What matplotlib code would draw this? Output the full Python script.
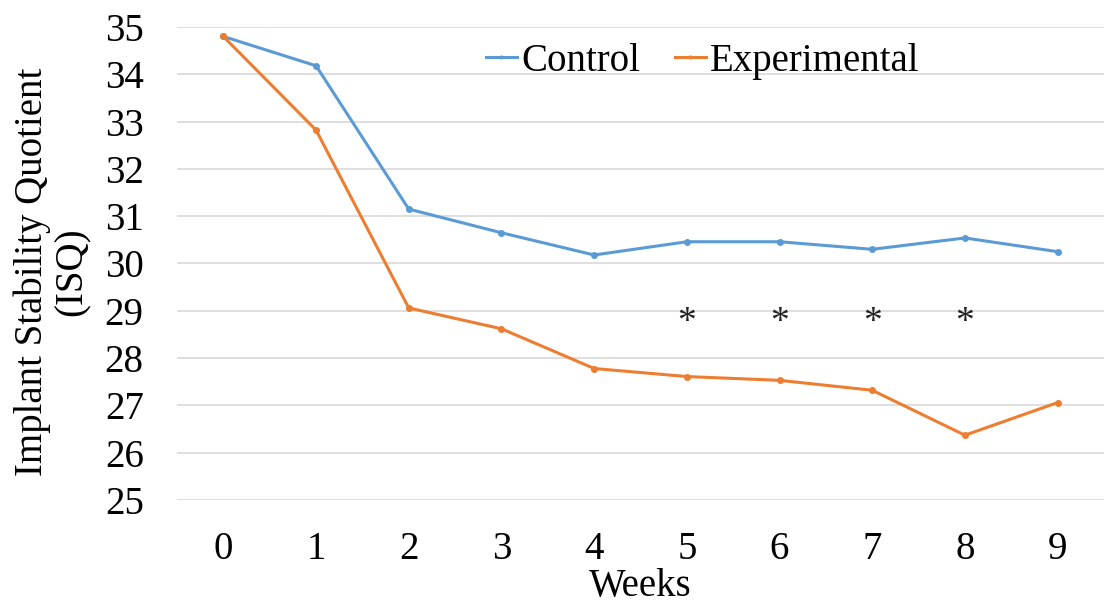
import matplotlib
matplotlib.use("Agg")
import matplotlib.pyplot as plt

weeks = [0, 1, 2, 3, 4, 5, 6, 7, 8, 9]
week_labels = ["0", "1", "2", "3", "4", "5", "6", "7", "8", "9"]
control = [34.80, 34.18, 31.15, 30.65, 30.18, 30.46, 30.46, 30.30, 30.54, 30.25]
experimental = [34.80, 32.82, 29.06, 28.62, 27.78, 27.61, 27.53, 27.32, 26.37, 27.06]
sig_weeks = [5, 6, 7, 8]
sig_y = 28.75
yticks = [25, 26, 27, 28, 29, 30, 31, 32, 33, 34, 35]

plt.rcParams['font.family'] = ['Liberation Serif', 'DejaVu Serif']
FS = 28

fig = plt.figure(figsize=(11.06, 6.07), dpi=100)
ax = fig.add_axes([177/1106, 1 - 500/607, (1104-177)/1106, (500-27)/607])

ax.plot(weeks, control, color='#5B9BD5', lw=2.2, marker='o', ms=4, label='Control')
ax.plot(weeks, experimental, color='#ED7D31', lw=2.2, marker='o', ms=4, label='Experimental')

for w in sig_weeks:
    ax.text(w, sig_y, '*', ha='center', va='center', fontsize=27, color='#222222')

ax.set_xlim(-0.5, 9.5)
ax.set_ylim(25, 35)
ax.set_yticks(yticks)
ax.set_xticks(weeks)
ax.set_xticklabels(week_labels)
ax.grid(axis='y', color='#D9D9D9', lw=1.2)
ax.set_axisbelow(True)
for s in ax.spines.values():
    s.set_visible(False)
ax.tick_params(axis='both', length=0, labelsize=FS)
ax.tick_params(axis='y', pad=24)
ax.tick_params(axis='x', pad=22)

ax.set_xlabel('Weeks', fontsize=FS, labelpad=0)
fig.text(52/1106, 1 - 272/607, 'Implant Stability Quotient\n(ISQ)', rotation=90,
         ha='center', va='center', fontsize=FS, linespacing=1.12, multialignment='center')

leg = ax.legend(loc='upper center', bbox_to_anchor=(0.567, 1.04), ncol=2, frameon=False,
                fontsize=FS, handlelength=0.8, handletextpad=0.1, columnspacing=0.9,
                markerscale=0.5)

fig.savefig('out.png', dpi=100)
